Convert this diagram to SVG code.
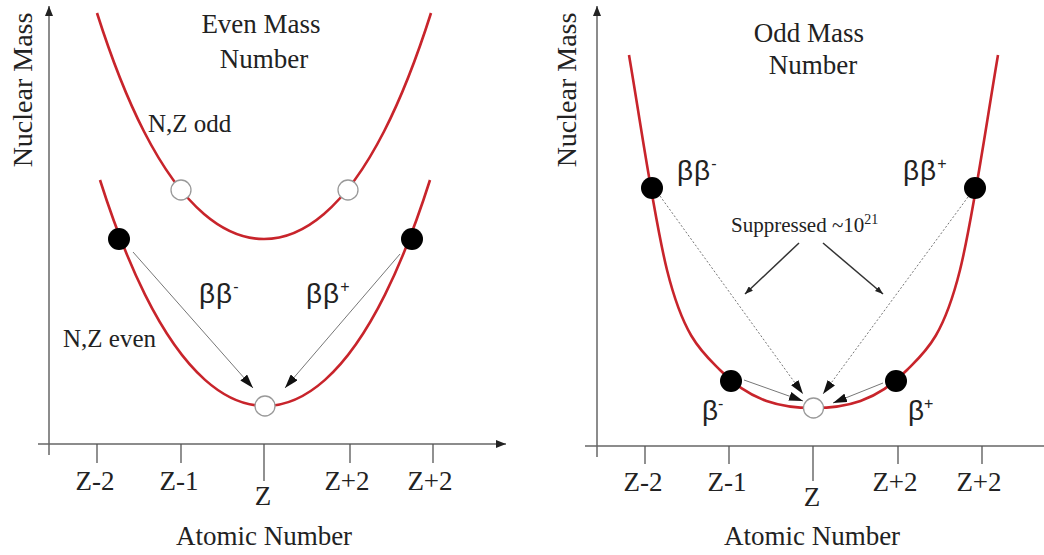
<svg xmlns="http://www.w3.org/2000/svg" width="1044" height="555" viewBox="0 0 1044 555">
<style>
.ser{font-family:"Liberation Serif","Times New Roman",serif;fill:#222}
.san{font-family:"Liberation Sans",Arial,sans-serif;fill:#222}
.ax{stroke:#666;stroke-width:1.5;fill:none}
.tk{stroke:#555;stroke-width:1.3}
.curve{stroke:#c8242b;stroke-width:2.6;fill:none}
.dot{fill:#000}
.open{fill:#fff;stroke:#999;stroke-width:1.3}
.ar{stroke:#777;stroke-width:1;fill:none}
.dash{stroke:#777;stroke-width:1;stroke-dasharray:2,2;fill:none}
.sup{stroke:#333;stroke-width:1.5;fill:none}
.tl{font-size:27px}
</style>
<defs>
<marker id="ah" markerUnits="userSpaceOnUse" markerWidth="15" markerHeight="9" refX="14" refY="4.5" orient="auto"><path d="M0,0 L14,4.5 L0,9 z" fill="#111"/></marker>
<marker id="axh" markerUnits="userSpaceOnUse" markerWidth="11" markerHeight="8" refX="10" refY="4" orient="auto"><path d="M0,0 L10,4 L0,8 z" fill="#222"/></marker>
<marker id="sh" markerUnits="userSpaceOnUse" markerWidth="9" markerHeight="6" refX="8" refY="3" orient="auto"><path d="M0,0 L8,3 L0,6 z" fill="#222"/></marker>
</defs>

<g id="left-axes">
<line class="ax" x1="49" y1="455" x2="49" y2="6" marker-end="url(#axh)"/>
<line class="ax" x1="38" y1="444" x2="506" y2="444" marker-end="url(#axh)"/>
<line class="tk" x1="97" y1="444" x2="97" y2="463"/>
<line class="tk" x1="181" y1="444" x2="181" y2="463"/>
<line class="tk" x1="264" y1="444" x2="264" y2="481"/>
<line class="tk" x1="350" y1="444" x2="350" y2="463"/>
<line class="tk" x1="433" y1="444" x2="433" y2="463"/>
<text class="ser tl" text-anchor="middle" x="95" y="490">Z-2</text>
<text class="ser tl" text-anchor="middle" x="179" y="490">Z-1</text>
<text class="ser tl" text-anchor="middle" x="263" y="505">Z</text>
<text class="ser tl" text-anchor="middle" x="347" y="490">Z+2</text>
<text class="ser tl" text-anchor="middle" x="430" y="490">Z+2</text>
<text class="ser" font-size="27" text-anchor="middle" x="264" y="545">Atomic Number</text>
<text class="ser" font-size="28" text-anchor="middle" transform="translate(32,90) rotate(-90)">Nuclear Mass</text>
<text class="ser" font-size="27" text-anchor="middle" x="261" y="33">Even Mass</text>
<text class="ser" font-size="27" text-anchor="middle" x="264" y="68">Number</text>
</g>

<g id="right-axes">
<line class="ax" x1="597" y1="457" x2="597" y2="6" marker-end="url(#axh)"/>
<line class="ax" x1="585" y1="446" x2="1044" y2="446"/>
<line class="tk" x1="645" y1="446" x2="645" y2="464"/>
<line class="tk" x1="729" y1="446" x2="729" y2="464"/>
<line class="tk" x1="813" y1="446" x2="813" y2="481"/>
<line class="tk" x1="898" y1="446" x2="898" y2="464"/>
<line class="tk" x1="982" y1="446" x2="982" y2="464"/>
<text class="ser tl" text-anchor="middle" x="643" y="491">Z-2</text>
<text class="ser tl" text-anchor="middle" x="727" y="491">Z-1</text>
<text class="ser tl" text-anchor="middle" x="812" y="506">Z</text>
<text class="ser tl" text-anchor="middle" x="895" y="491">Z+2</text>
<text class="ser tl" text-anchor="middle" x="979" y="491">Z+2</text>
<text class="ser" font-size="27" text-anchor="middle" x="812" y="545">Atomic Number</text>
<text class="ser" font-size="28" text-anchor="middle" transform="translate(576,90) rotate(-90)">Nuclear Mass</text>
<text class="ser" font-size="27" text-anchor="middle" x="809" y="42">Odd Mass</text>
<text class="ser" font-size="27" text-anchor="middle" x="813" y="74">Number</text>
</g>

<g id="curve-odd">
<path class="curve" d="M97,13 C112.67,62.3 128.33,100.87 144,131.5 C164,170.6 184,196.85 204,213.95 C224,231.05 244,239 264,239 C284,239 304,231.05 324,213.95 C344,196.85 364,170.6 384,131.5 C399.67,100.87 415.33,62.3 431,13"/>
<text class="ser" font-size="25" x="148" y="132">N,Z odd</text>
</g>

<g id="curve-even">
<path class="curve" d="M100,180 C115,227.11 130,264.52 145,294.64 C165,334.8 185,362.07 205,379.87 C225,397.67 245,406 265,406 C285,406 305,397.67 325,379.87 C345,362.07 365,334.8 385,294.64 C400,264.52 415,227.11 430,180"/>
<text class="ser" font-size="25" x="63" y="347">N,Z even</text>
</g>

<g id="curve-oddmass">
<path class="curve" d="M629,55 C641.67,129.7 654.33,219.3 667,270 C684,338 702,352 720,370 C751,402 782,408 813.5,408 C845,408 876,402 907,370 C925,352 943,338 960,270 C972.67,219.3 985.33,129.7 998,55"/>
</g>

<g id="connectors">
<line class="ar" x1="133" y1="252" x2="253" y2="388" marker-end="url(#ah)"/>
<line class="ar" x1="400" y1="254" x2="285" y2="388" marker-end="url(#ah)"/>
<line class="dash" x1="660" y1="196" x2="803" y2="394" marker-end="url(#ah)"/>
<line class="dash" x1="968" y1="197" x2="823" y2="394" marker-end="url(#ah)"/>
<line class="ar" x1="744" y1="380" x2="803" y2="401" marker-end="url(#ah)"/>
<line class="ar" x1="883" y1="383" x2="833" y2="403" marker-end="url(#ah)"/>
<line class="sup" x1="799" y1="243" x2="745" y2="294" marker-end="url(#sh)"/>
<line class="sup" x1="823" y1="243" x2="883" y2="294" marker-end="url(#sh)"/>
</g>

<g id="nodes-left">
<circle class="open" cx="181" cy="190" r="10"/>
<circle class="open" cx="348" cy="190" r="10"/>
<circle class="dot" cx="119" cy="239" r="11"/>
<circle class="dot" cx="412" cy="239" r="11"/>
<circle class="open" cx="265" cy="406" r="10"/>
</g>

<g id="nodes-right">
<circle class="dot" cx="652" cy="188" r="11"/>
<circle class="dot" cx="975" cy="188" r="11"/>
<circle class="dot" cx="731" cy="381" r="11"/>
<circle class="dot" cx="896" cy="381" r="11"/>
<circle class="open" cx="813.5" cy="408" r="10"/>
</g>

<g id="labels">
<text class="san" font-size="28" letter-spacing="1" x="199" y="303">ββ<tspan font-size="16" dy="-11">-</tspan></text>
<text class="san" font-size="28" letter-spacing="1" x="306" y="303">ββ<tspan font-size="16" dy="-11">+</tspan></text>
<text class="san" font-size="28" letter-spacing="1" x="677" y="180">ββ<tspan font-size="16" dy="-11">-</tspan></text>
<text class="san" font-size="28" letter-spacing="1" x="903" y="180">ββ<tspan font-size="16" dy="-11">+</tspan></text>
<text class="san" font-size="28" x="702" y="420">β<tspan font-size="16" dy="-11">-</tspan></text>
<text class="san" font-size="28" x="908" y="420">β<tspan font-size="16" dy="-11">+</tspan></text>
<text class="ser" font-size="21" x="731" y="232">Suppressed ~10<tspan font-size="14" dy="-8">21</tspan></text>
</g>
</svg>
